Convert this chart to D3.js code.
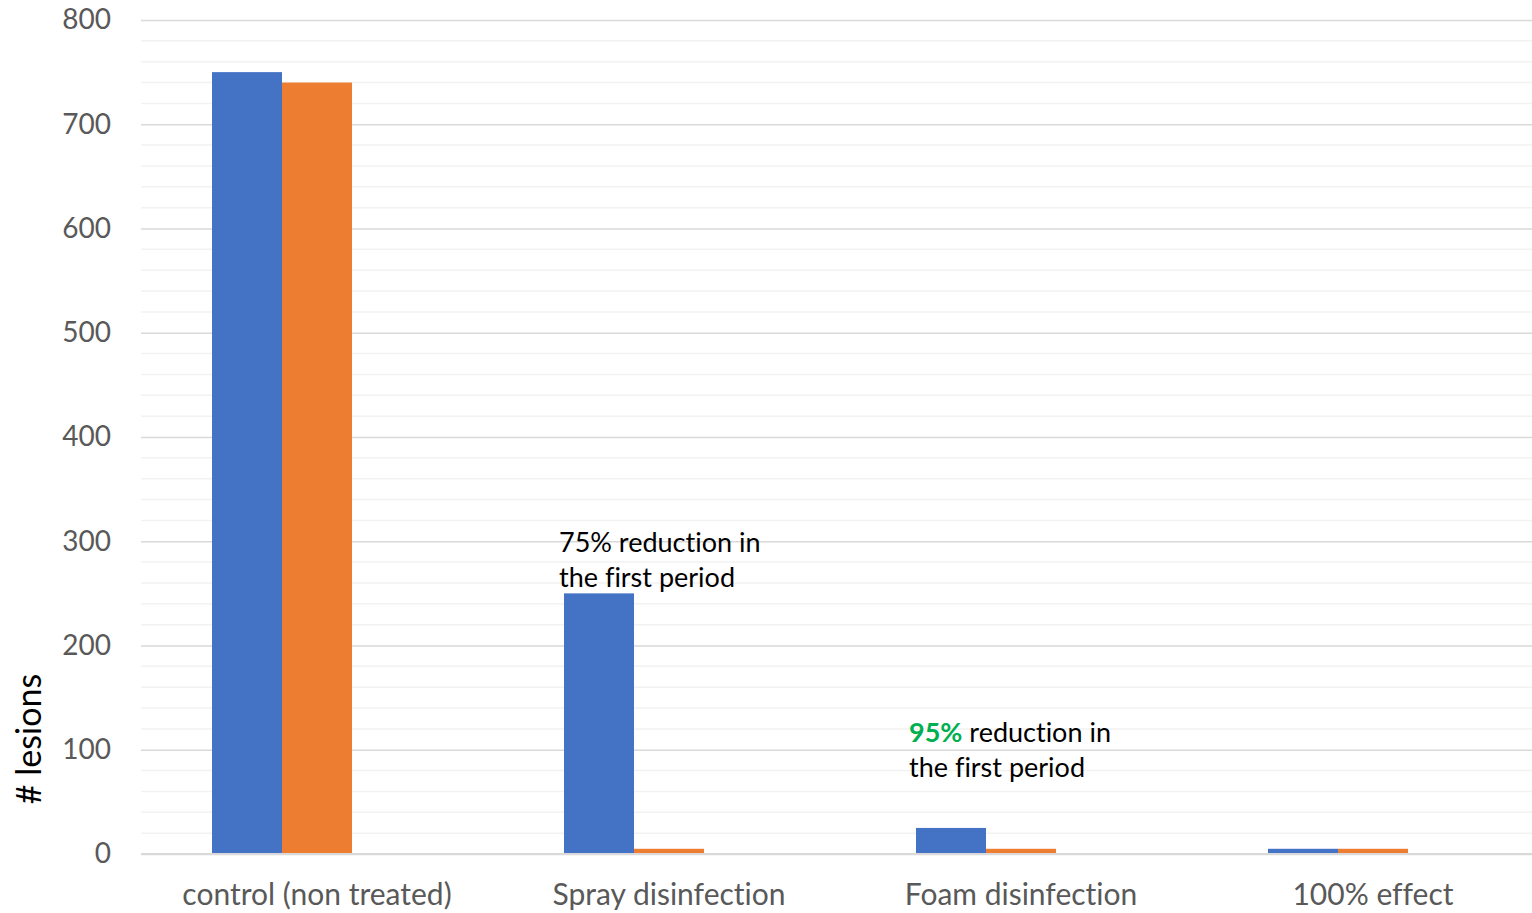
<!DOCTYPE html>
<html>
<head>
<meta charset="utf-8">
<script src="https://cdn.jsdelivr.net/npm/d3@7/dist/d3.min.js"></script>
<style>
  html, body { margin: 0; padding: 0; background: #fff; }
  svg { display: block; font-variant-ligatures: none; }
</style>
</head>
<body>
<svg id="chart" width="1532" height="913"></svg>
<script>
// Treatment groups and lesion counts for the observation periods
const categories = ["control (non treated)", "Spray disinfection", "Foam disinfection", "100% effect"];
const seriesNames = ["period1", "period2", "period3"];
const period1 = [750, 250, 25, 5];
const period2 = [740, 5, 5, 5];
const period3 = [0, 0, 0, 0];
const yTicks = [0, 100, 200, 300, 400, 500, 600, 700, 800];
const seriesColors = ["#4472c4", "#ed7d31", "#a5a5a5"];

const svg = d3.select("#chart");
const font = "Lato, 'Open Sans', 'Liberation Sans', sans-serif";

const x0 = 141, x1 = 1549, yTop = 20, yBottom = 854;

const x = d3.scaleBand().domain(categories).range([x0, x1]).paddingInner(0).paddingOuter(0);
const y = d3.scaleLinear().domain([0, 800]).range([yBottom, yTop]);

// Minor gridlines every 20
const minor = d3.range(20, 800, 20).filter(v => v % 100 !== 0);
svg.append("g").selectAll("line").data(minor).join("line")
  .attr("x1", x0).attr("x2", 1532)
  .attr("y1", d => y(d)).attr("y2", d => y(d))
  .attr("stroke", "#f2f2f2").attr("stroke-width", 1.5);

// Major gridlines with tick labels, via a left axis
const yAxis = d3.axisLeft(y).tickValues(yTicks).tickSize(-(1532 - x0)).tickPadding(30);
const gy = svg.append("g").attr("transform", `translate(${x0},0)`).call(yAxis);
gy.select(".domain").remove();
gy.selectAll(".tick line").attr("stroke", "#d9d9d9").attr("stroke-width", 1.5);
gy.selectAll(".tick text")
  .attr("fill", "#595959").attr("font-size", 28).attr("font-family", font);

// Bars: three series slots per group, the third is empty
const groupWidth = 210;
const inner = d3.scaleBand().domain(seriesNames).range([0, groupWidth]);
const groupOffset = (x.bandwidth() - groupWidth) / 2;
const rows = categories.map((c, i) => ({ c, vals: [period1[i], period2[i], period3[i]] }));
const groups = svg.append("g").selectAll("g").data(rows).join("g")
  .attr("transform", d => `translate(${x(d.c) + groupOffset},0)`);
groups.selectAll("rect").data(d => d.vals.map((v, j) => ({ v, s: seriesNames[j], j })).filter(d => d.v > 0))
  .join("rect")
  .attr("x", d => inner(d.s))
  .attr("width", inner.bandwidth())
  .attr("y", d => y(d.v))
  .attr("height", d => y(0) - y(d.v))
  .attr("fill", d => seriesColors[d.j]);

// Zero baseline
svg.append("line").attr("x1", x0).attr("x2", 1532)
  .attr("y1", y(0)).attr("y2", y(0))
  .attr("stroke", "#d9d9d9").attr("stroke-width", 2);

// Category labels
const xAxis = d3.axisBottom(x).tickSize(0).tickPadding(30);
const gx = svg.append("g").attr("transform", `translate(0,${yBottom})`).call(xAxis);
gx.select(".domain").remove();
gx.selectAll(".tick text")
  .attr("fill", "#595959").attr("font-size", 30).attr("font-family", font);

// Y axis title
svg.append("text")
  .attr("transform", `translate(41,${739}) rotate(-90)`)
  .attr("text-anchor", "middle")
  .attr("font-size", 34).attr("font-family", font).attr("fill", "#000")
  .text("# lesions");

// Annotations
function note(xPos, baseY, lead, highlight) {
  const t = svg.append("text").attr("x", xPos).attr("y", baseY)
    .attr("font-size", 27).attr("font-family", font).attr("fill", "#000");
  if (highlight) {
    t.append("tspan").attr("fill", "#00b050").attr("font-weight", "bold").text(highlight);
    t.append("tspan").text(" reduction in");
  } else {
    t.text(lead + " reduction in");
  }
  svg.append("text").attr("x", xPos).attr("y", baseY + 35)
    .attr("font-size", 27).attr("font-family", font).attr("fill", "#000")
    .text("the first period");
}
note(559, 552, "75%", null);
note(909, 742, null, "95%");
</script>
</body>
</html>
